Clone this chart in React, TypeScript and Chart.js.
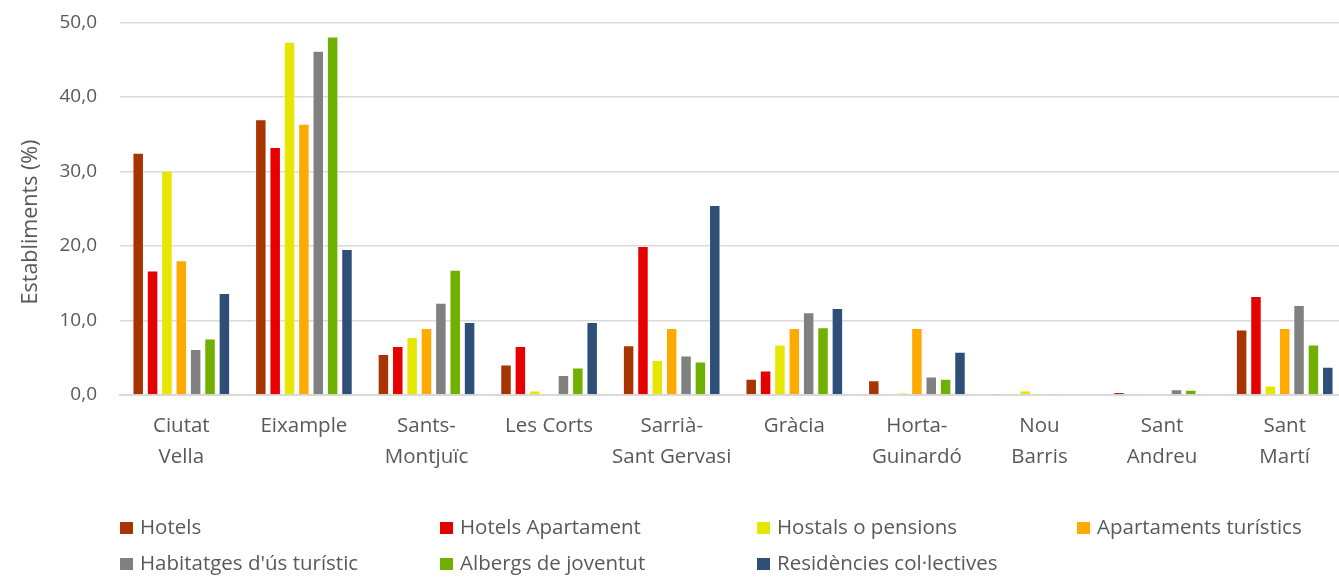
import React, { useEffect, useRef } from "react";
import { Chart, registerables } from "chart.js";

Chart.register(...registerables);

const categories: string[][] = [
  ["Ciutat", "Vella"],
  ["Eixample"],
  ["Sants-", "Montjuïc"],
  ["Les Corts"],
  ["Sarrià-", "Sant Gervasi"],
  ["Gràcia"],
  ["Horta-", "Guinardó"],
  ["Nou", "Barris"],
  ["Sant", "Andreu"],
  ["Sant", "Martí"],
];

const seriesNames = [
  "Hotels",
  "Hotels Apartament",
  "Hostals o pensions",
  "Apartaments turístics",
  "Habitatges d'ús turístic",
  "Albergs de joventut",
  "Residències col·lectives",
];

const yTitle = "Establiments (%)";

const seriesColors = ["#A83400", "#E60000", "#E6E600", "#FFAA00", "#808080", "#70B000", "#2E5078"];

const hotels = [32.5, 37.0, 5.5, 4.1, 6.7, 2.2, 2.0, 0.2, 0.4, 8.8];
const hotelsApartament = [16.7, 33.3, 6.6, 6.6, 20.0, 3.3, 0, 0, 0, 13.3];
const hostals = [30.1, 47.4, 7.8, 0.6, 4.7, 6.8, 0.3, 0.6, 0, 1.3];
const apartaments = [18.1, 36.4, 9.0, 0, 9.0, 9.0, 9.0, 0, 0, 9.0];
const habitatges = [6.2, 46.2, 12.4, 2.7, 5.3, 11.1, 2.5, 0.2, 0.8, 12.1];
const albergs = [7.6, 48.1, 16.8, 3.7, 4.5, 9.1, 2.2, 0, 0.7, 6.8];
const residencies = [13.7, 19.6, 9.8, 9.8, 25.5, 11.7, 5.8, 0, 0, 3.8];

const seriesValues = [hotels, hotelsApartament, hostals, apartaments, habitatges, albergs, residencies];

const FONT = "'Open Sans', sans-serif";
const TEXT = "#595959";
const TICK_SIZE = 19;
const LABEL_SIZE = 20.5;
const TITLE_SIZE = 21.5;
const SHIFT = 12;

const legendPlugin = {
  id: "columnLegend",
  afterDraw(chart: any) {
    const ctx = chart.ctx;
    const colX = [120, 440, 757, 1077];
    const rowY = [527 + SHIFT, 563 + SHIFT];
    ctx.save();
    ctx.font = `${LABEL_SIZE}px ${FONT}`;
    ctx.textBaseline = "middle";
    ctx.textAlign = "left";
    seriesNames.forEach((name, i) => {
      const x = colX[i % 4];
      const y = rowY[Math.floor(i / 4)];
      ctx.fillStyle = seriesColors[i];
      ctx.fillRect(x, y - 5, 13, 12);
      ctx.fillStyle = TEXT;
      ctx.fillText(name, x + 20, y + 1);
    });
    // y-axis title
    ctx.translate(31, 222 + SHIFT);
    ctx.rotate(-Math.PI / 2);
    ctx.font = `${TITLE_SIZE}px ${FONT}`;
    ctx.textAlign = "center";
    ctx.fillText(yTitle, 0, 0);
    ctx.restore();
  },
};

export default function App() {
  const ref = useRef<HTMLCanvasElement | null>(null);
  useEffect(() => {
    if (!ref.current) return;
    const chart = new Chart(ref.current, {
      type: "bar",
      data: {
        labels: categories,
        datasets: seriesNames.map((name, i) => ({
          label: name,
          data: seriesValues[i],
          backgroundColor: seriesColors[i],
          borderColor: "rgba(255,255,255,0.25)",
          borderWidth: 1,
          categoryPercentage: 0.82,
          barPercentage: 0.8,
        })),
      },
      options: {
        animation: false,
        responsive: false,
        maintainAspectRatio: false,
        layout: { padding: { top: 0, right: 0, left: 0, bottom: 96 } },
        plugins: { legend: { display: false }, tooltip: { enabled: false } },
        scales: {
          x: {
            grid: { display: false },
            border: { display: true, color: "#D9D9D9", width: 2 },
            ticks: { color: TEXT, font: { family: FONT, size: LABEL_SIZE, lineHeight: 1.51 }, padding: 8, maxRotation: 0, autoSkip: false },
          },
          y: {
            min: 0,
            max: 50,
            afterFit: (scale: any) => {
              scale.width = 120;
            },
            ticks: {
              stepSize: 10,
              color: TEXT,
              font: { family: FONT, size: TICK_SIZE },
              padding: 23,
              callback: (v: any) => Number(v).toFixed(1).replace(".", ","),
            },
            grid: { color: "#D9D9D9", lineWidth: 1.5, drawTicks: false },
            border: { display: false },
          },
        },
      },
      plugins: [legendPlugin],
    });
    return () => chart.destroy();
  }, []);
  return (
    <div style={{ position: "fixed", left: 0, top: 0, width: 1339, height: 577, overflow: "hidden", background: "#fff" }}>
      <canvas ref={ref} width={1346} height={577 + SHIFT} style={{ width: 1346, height: 577 + SHIFT, display: "block", marginTop: -SHIFT }} />
    </div>
  );
}
